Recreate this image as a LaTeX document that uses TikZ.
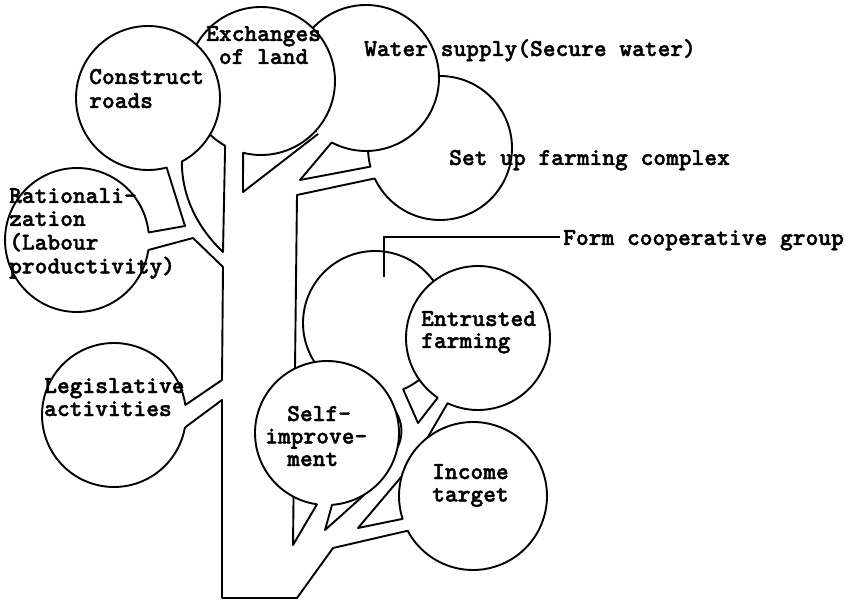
\documentclass[tikz,border=0pt]{standalone}
\usepackage{fontspec}
\newfontfamily\twfont{lmmonolt10-bold.otf}[FakeBold=1.6]
\usetikzlibrary{calc}
\newcommand\txtlines[1]{\begin{tabular}[t]{@{}l@{}}#1\end{tabular}}
\begin{document}
\begin{tikzpicture}[x=1pt,y=-1pt,
  wood/.style={line width=1.9pt, line join=round, line cap=round},
  rim/.style={line width=1.9pt, line join=round, line cap=round},
  bubble/.style={circle, fill=white, draw=none, inner sep=0pt, minimum size=#1},
  lbl/.style={inner sep=0pt, anchor=base west, font=\twfont\fontsize{24.3}{#1}\selectfont},
  lbl/.default=22.5,
  pin/.style={line width=1.2pt},
]
\useasboundingbox (0,0) rectangle (856,601);
\fill[white] (0,0) rectangle (856,601);
% centres of the bubbles
\coordinate (cConstr) at (148,98);
\coordinate (cExch) at (261,81);
\coordinate (cWater) at (366,78);
\coordinate (cSet) at (440,148);
\coordinate (cRation) at (77,240);
\coordinate (cLegis) at (114,415);
\coordinate (cCoop) at (375,323);
\coordinate (cEntr) at (478,338);
\coordinate (cSelf) at (327,433);
\coordinate (cIncome) at (473,496);
% trunk and branches
\draw[wood] ($(cExch)+(119:74)$) -- (223,252) .. controls (200,230) and (182,200) .. ($(cConstr)+(62:72)$);
\draw[wood] ($(cConstr)+(75:72)$) -- (185,226) -- ($(cRation)+(-6:72)$);
\draw[wood] ($(cRation)+(8:72)$) -- (193,238) -- (223,267) -- (222,380) -- ($(cLegis)+(-8:72)$);
\draw[wood] ($(cLegis)+(10:72)$) -- (222,400) -- (222,598) -- (297,598) -- (333,548) -- ($(cIncome)+(152:74)$);
\draw[wood] ($(cIncome)+(162:74)$) -- (358,528) -- (402,476) -- (425,442) -- ($(cEntr)+(115:72)$);
\draw[wood] ($(cEntr)+(124:72)$) -- (418,423) -- ($(cCoop)+(67:72)$);
\draw[wood] ($(cSelf)+(86:72)$) -- (325,530) -- (363,496) -- (390,458) .. controls (402,445) and (406,428) .. (395,410) -- (385,396);
\draw[wood] ($(cSelf)+(98:72)$) -- (293,545) -- (295,368) -- (297,195) -- ($(cSet)+(155:72)$);
\draw[wood] ($(cSet)+(165:72)$) -- (300,180) -- ($(cWater)+(118:73)$);
\draw[wood] ($(cExch)+(104:74)$) -- (243,192) -- (318,134);
% bubbles, back to front
\node[bubble=144pt] (setc) at (cSet) {};
\draw[rim, shift={(cSet)}] plot[domain=165:515, samples=120] (\x:72);
\node[bubble=146pt] (water) at (cWater) {};
\draw[rim, shift={(cWater)}] plot[domain=133:478, samples=120] (\x:73);
\node[bubble=148pt] (exch) at (cExch) {};
\draw[rim, shift={(cExch)}] plot[domain=119:464, samples=120] (\x:74);
\node[bubble=144pt] (constr) at (cConstr) {};
\draw[rim, shift={(cConstr)}] plot[domain=75:422, samples=120] (\x:72);
\node[bubble=144pt] (ration) at (cRation) {};
\draw[rim, shift={(cRation)}] plot[domain=8:354, samples=120] (\x:72);
\node[bubble=144pt] (legis) at (cLegis) {};
\draw[rim, shift={(cLegis)}] plot[domain=10:352, samples=120] (\x:72);
\node[bubble=144pt] (coop) at (cCoop) {};
\draw[rim, shift={(cCoop)}] plot[domain=82:427, samples=120] (\x:72);
\node[bubble=144pt] (entr) at (cEntr) {};
\draw[rim, shift={(cEntr)}] plot[domain=124:475, samples=120] (\x:72);
\node[bubble=144pt] (selfc) at (cSelf) {};
\draw[rim, shift={(cSelf)}] plot[domain=98:446, samples=120] (\x:72);
\node[bubble=148pt] (income) at (cIncome) {};
\draw[rim, shift={(cIncome)}] plot[domain=162:512, samples=120] (\x:74);
% labels
\node[lbl=24] (tConstr) at (89,84) {\txtlines{Construct\\roads}};
\node[lbl=23] (tExch) at (206,41) {\txtlines{Exchanges\\\hspace*{12.75pt}of land}};
\node[lbl] (tWater) at (364,56) {Water supply(Secure water)};
\node[lbl] (tSet) at (449,165) {Set up farming complex};
\node[lbl] (tForm) at (563,245) {Form cooperative group};
\node[lbl=23] (tRation) at (9,203) {\txtlines{Rationali-\\zation\\(Labour\\productivity)}};
\node[lbl=23] (tLegis) at (44,393) {\txtlines{Legislative\\activities}};
\node[lbl=22.5] (tSelf) at (265,421) {\txtlines{\hspace*{22pt}Self-\\improve-\\\hspace*{22pt}ment}};
\node[lbl=22] (tEntr) at (421,326) {\txtlines{Entrusted\\farming}};
\node[lbl=22.5] (tIncome) at (432,479) {\txtlines{Income\\target}};
% pointer to the unlabelled bubble
\coordinate (coopPin) at (384,277);
\draw[pin] (coopPin) |- ([xshift=-3pt,yshift=8pt]tForm.base west);
\end{tikzpicture}
\end{document}
